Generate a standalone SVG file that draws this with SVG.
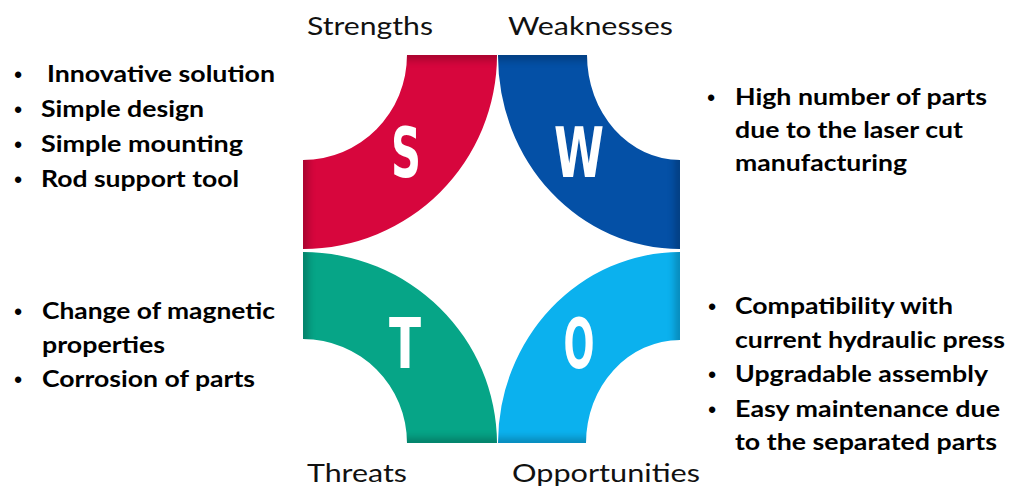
<svg xmlns="http://www.w3.org/2000/svg" width="1019" height="488" viewBox="0 0 1019 488">
  <style>
    .title { font-family: Lato, "Open Sans", "Liberation Sans", sans-serif; font-size: 25px; fill: #111; }
    .item { font-family: Lato, "Open Sans", "Liberation Sans", sans-serif; font-weight: bold; font-size: 22px; fill: #000; }
    .bul { font-family: "Liberation Sans", sans-serif; font-weight: bold; font-size: 22px; fill: #000; text-anchor: middle; }
    .letter { font-family: "Liberation Sans Narrow", "DejaVu Sans Condensed", "Liberation Sans", sans-serif; font-weight: bold; font-size: 70px; fill: #fff; text-anchor: middle; }
  </style>
  <defs>
    <path id="shape-s" d="M407 55 L497 55 A194 194 0 0 1 303 249 L303 160 A104 105 0 0 0 407 55 Z"/>
    <path id="shape-w" d="M587 55 L498 55 A182 193 0 0 0 680 249 L680 160 A93 105 0 0 1 587 55 Z"/>
    <path id="shape-t" d="M303 252 A194 192 0 0 1 497 443 L407 443 A104 104 0 0 0 303 339 Z"/>
    <path id="shape-o" d="M680 252 A182 191 0 0 0 498 443 L586 443 A94 103 0 0 1 680 340 Z"/>
    <clipPath id="bands">
      <use href="#shape-s"/>
      <use href="#shape-w"/>
      <use href="#shape-t"/>
      <use href="#shape-o"/>
    </clipPath>
    <filter id="soft" x="-10%" y="-10%" width="120%" height="120%">
      <feGaussianBlur stdDeviation="5"/>
    </filter>
  </defs>

  <rect width="1019" height="488" fill="#fff"/>

  <!-- SWOT bands: quarter annuli anchored at the four outer corners -->
  <g id="band-s">
    <use href="#shape-s" fill="#D7063D"/>
  </g>
  <g id="band-w">
    <use href="#shape-w" fill="#0450A6"/>
  </g>
  <g id="band-t">
    <use href="#shape-t" fill="#06A587"/>
  </g>
  <g id="band-o">
    <use href="#shape-o" fill="#0BB1EE"/>
  </g>

  <!-- darker shading where the bands meet the outer frame -->
  <g clip-path="url(#bands)" opacity="0.4">
    <rect x="303" y="55" width="377" height="388" fill="none" stroke="#000" stroke-width="6" filter="url(#soft)"/>
  </g>

  <!-- band letters -->
  <g id="letters">
    <text class="letter" x="406" y="177" textLength="30" lengthAdjust="spacingAndGlyphs">S</text>
    <text class="letter" x="579" y="177" textLength="50" lengthAdjust="spacingAndGlyphs">W</text>
    <text class="letter" x="405" y="368" textLength="32" lengthAdjust="spacingAndGlyphs">T</text>
    <text class="letter" x="579" y="368" textLength="31" lengthAdjust="spacingAndGlyphs">O</text>
  </g>

  <!-- quadrant headings -->
  <g id="headings">
    <text class="title" x="307" y="35" textLength="126" lengthAdjust="spacingAndGlyphs">Strengths</text>
    <text class="title" x="508" y="35" textLength="165" lengthAdjust="spacingAndGlyphs">Weaknesses</text>
    <text class="title" x="307" y="482" textLength="100" lengthAdjust="spacingAndGlyphs">Threats</text>
    <text class="title" x="512" y="482" textLength="188" lengthAdjust="spacingAndGlyphs">Opportunities</text>
  </g>

  <!-- strengths list -->
  <g id="list-strengths">
    <text class="bul" x="18" y="82">•</text>
    <text class="item" x="47" y="82" textLength="228" lengthAdjust="spacingAndGlyphs">Innovative solution</text>
    <text class="bul" x="18" y="117">•</text>
    <text class="item" x="41" y="117" textLength="163" lengthAdjust="spacingAndGlyphs">Simple design</text>
    <text class="bul" x="18" y="152">•</text>
    <text class="item" x="41" y="152" textLength="202" lengthAdjust="spacingAndGlyphs">Simple mounting</text>
    <text class="bul" x="18" y="187">•</text>
    <text class="item" x="41" y="187" textLength="198" lengthAdjust="spacingAndGlyphs">Rod support tool</text>
  </g>

  <!-- weaknesses list -->
  <g id="list-weaknesses">
    <text class="bul" x="711" y="105">•</text>
    <text class="item" x="735" y="105" textLength="252" lengthAdjust="spacingAndGlyphs">High number of parts</text>
    <text class="item" x="735" y="138" textLength="228" lengthAdjust="spacingAndGlyphs">due to the laser cut</text>
    <text class="item" x="735" y="171" textLength="172" lengthAdjust="spacingAndGlyphs">manufacturing</text>
  </g>

  <!-- threats list -->
  <g id="list-threats">
    <text class="bul" x="18" y="319">•</text>
    <text class="item" x="42" y="319" textLength="233" lengthAdjust="spacingAndGlyphs">Change of magnetic</text>
    <text class="item" x="42" y="353" textLength="123" lengthAdjust="spacingAndGlyphs">properties</text>
    <text class="bul" x="18" y="387">•</text>
    <text class="item" x="42" y="387" textLength="213" lengthAdjust="spacingAndGlyphs">Corrosion of parts</text>
  </g>

  <!-- opportunities list -->
  <g id="list-opportunities">
    <text class="bul" x="712" y="314">•</text>
    <text class="item" x="735" y="314" textLength="218" lengthAdjust="spacingAndGlyphs">Compatibility with</text>
    <text class="item" x="735" y="348" textLength="270" lengthAdjust="spacingAndGlyphs">current hydraulic press</text>
    <text class="bul" x="712" y="382">•</text>
    <text class="item" x="735" y="382" textLength="253" lengthAdjust="spacingAndGlyphs">Upgradable assembly</text>
    <text class="bul" x="712" y="417">•</text>
    <text class="item" x="735" y="417" textLength="265" lengthAdjust="spacingAndGlyphs">Easy maintenance due</text>
    <text class="item" x="735" y="450" textLength="262" lengthAdjust="spacingAndGlyphs">to the separated parts</text>
  </g>

  <!-- no connectors in this figure -->
  <g id="connectors"/>
</svg>
